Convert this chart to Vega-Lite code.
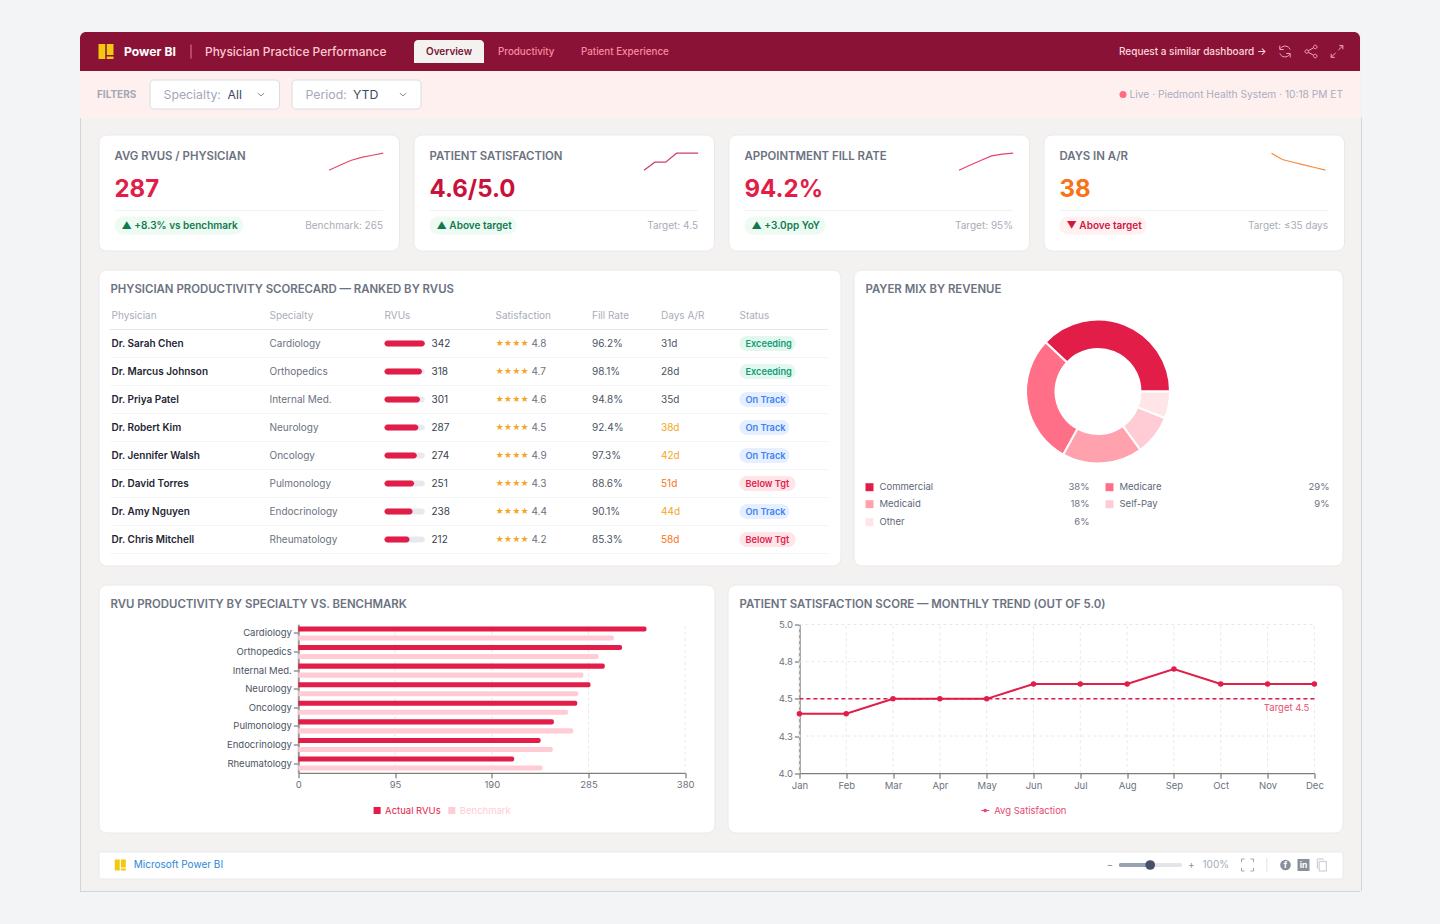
{
  "$schema": "https://vega.github.io/schema/vega-lite/v6.json",
  "description": "Physician Practice Performance dashboard.",
  "background": "#f3f2f1",
  "padding": 0,
  "spacing": 0,
  "config": {
    "font": "Inter",
    "axis": {"disable": true},
    "legend": {"disable": true},
    "view": {"stroke": null},
    "point": {"opacity": 1},
    "text": {"align": "left", "baseline": "middle", "fontSize": 10}
  },
  "datasets": {
    "kpi": [
      {"card": "AVG RVUS", "label": "AVG RVUS / PHYSICIAN", "value": "287", "badge": "▲ +8.3% vs benchmark", "trend": "up", "note": "Benchmark: 265"},
      {"card": "SATISFACTION", "label": "PATIENT SATISFACTION", "value": "4.6/5.0", "badge": "▲ Above target", "trend": "up", "note": "Target: 4.5"},
      {"card": "FILL RATE", "label": "APPOINTMENT FILL RATE", "value": "94.2%", "badge": "▲ +3.0pp YoY", "trend": "up", "note": "Target: 95%"},
      {"card": "DAYS", "label": "DAYS IN A/R", "value": "38", "badge": "▼ Above target", "trend": "down", "note": "Target: ≤35 days"},
      {"card": "AVG RVUS", "step": 0, "spark": 0}, {"card": "AVG RVUS", "step": 1, "spark": 29}, {"card": "AVG RVUS", "step": 2, "spark": 57},
      {"card": "AVG RVUS", "step": 3, "spark": 75}, {"card": "AVG RVUS", "step": 4, "spark": 88}, {"card": "AVG RVUS", "step": 5, "spark": 100},
      {"card": "SATISFACTION", "step": 0, "spark": 0}, {"card": "SATISFACTION", "step": 1, "spark": 47}, {"card": "SATISFACTION", "step": 2, "spark": 47},
      {"card": "SATISFACTION", "step": 3, "spark": 100}, {"card": "SATISFACTION", "step": 4, "spark": 100}, {"card": "SATISFACTION", "step": 5, "spark": 100},
      {"card": "FILL RATE", "step": 0, "spark": 0}, {"card": "FILL RATE", "step": 1, "spark": 29}, {"card": "FILL RATE", "step": 2, "spark": 57},
      {"card": "FILL RATE", "step": 3, "spark": 84}, {"card": "FILL RATE", "step": 4, "spark": 94}, {"card": "FILL RATE", "step": 5, "spark": 100},
      {"card": "DAYS", "step": 0, "spark": 100}, {"card": "DAYS", "step": 1, "spark": 63}, {"card": "DAYS", "step": 2, "spark": 47},
      {"card": "DAYS", "step": 3, "spark": 31}, {"card": "DAYS", "step": 4, "spark": 16}, {"card": "DAYS", "step": 5, "spark": 0}
    ],
    "physicians": [
      {"rank": 1, "physician": "Dr. Sarah Chen", "specialty": "Cardiology", "rvus": 342, "stars": "★★★★", "rating": "4.8", "fill": "96.2%", "days": 31, "daysLabel": "31d", "status": "Exceeding"},
      {"rank": 2, "physician": "Dr. Marcus Johnson", "specialty": "Orthopedics", "rvus": 318, "stars": "★★★★", "rating": "4.7", "fill": "98.1%", "days": 28, "daysLabel": "28d", "status": "Exceeding"},
      {"rank": 3, "physician": "Dr. Priya Patel", "specialty": "Internal Med.", "rvus": 301, "stars": "★★★★", "rating": "4.6", "fill": "94.8%", "days": 35, "daysLabel": "35d", "status": "On Track"},
      {"rank": 4, "physician": "Dr. Robert Kim", "specialty": "Neurology", "rvus": 287, "stars": "★★★★", "rating": "4.5", "fill": "92.4%", "days": 38, "daysLabel": "38d", "status": "On Track"},
      {"rank": 5, "physician": "Dr. Jennifer Walsh", "specialty": "Oncology", "rvus": 274, "stars": "★★★★", "rating": "4.9", "fill": "97.3%", "days": 42, "daysLabel": "42d", "status": "On Track"},
      {"rank": 6, "physician": "Dr. David Torres", "specialty": "Pulmonology", "rvus": 251, "stars": "★★★★", "rating": "4.3", "fill": "88.6%", "days": 51, "daysLabel": "51d", "status": "Below Tgt"},
      {"rank": 7, "physician": "Dr. Amy Nguyen", "specialty": "Endocrinology", "rvus": 238, "stars": "★★★★", "rating": "4.4", "fill": "90.1%", "days": 44, "daysLabel": "44d", "status": "On Track"},
      {"rank": 8, "physician": "Dr. Chris Mitchell", "specialty": "Rheumatology", "rvus": 212, "stars": "★★★★", "rating": "4.2", "fill": "85.3%", "days": 58, "daysLabel": "58d", "status": "Below Tgt"}
    ],
    "payers": [
      {"rank": 1, "payer": "Commercial", "share": 38, "shareLabel": "38%"},
      {"rank": 2, "payer": "Medicare", "share": 29, "shareLabel": "29%"},
      {"rank": 3, "payer": "Medicaid", "share": 18, "shareLabel": "18%"},
      {"rank": 4, "payer": "Self-Pay", "share": 9, "shareLabel": "9%"},
      {"rank": 5, "payer": "Other", "share": 6, "shareLabel": "6%"}
    ],
    "specialties": [
      {"specialty": "Cardiology", "series": "Actual RVUs", "rvus": 342}, {"specialty": "Cardiology", "series": "Benchmark", "rvus": 310},
      {"specialty": "Orthopedics", "series": "Actual RVUs", "rvus": 318}, {"specialty": "Orthopedics", "series": "Benchmark", "rvus": 295},
      {"specialty": "Internal Med.", "series": "Actual RVUs", "rvus": 301}, {"specialty": "Internal Med.", "series": "Benchmark", "rvus": 280},
      {"specialty": "Neurology", "series": "Actual RVUs", "rvus": 287}, {"specialty": "Neurology", "series": "Benchmark", "rvus": 275},
      {"specialty": "Oncology", "series": "Actual RVUs", "rvus": 274}, {"specialty": "Oncology", "series": "Benchmark", "rvus": 265},
      {"specialty": "Pulmonology", "series": "Actual RVUs", "rvus": 251}, {"specialty": "Pulmonology", "series": "Benchmark", "rvus": 270},
      {"specialty": "Endocrinology", "series": "Actual RVUs", "rvus": 238}, {"specialty": "Endocrinology", "series": "Benchmark", "rvus": 250},
      {"specialty": "Rheumatology", "series": "Actual RVUs", "rvus": 212}, {"specialty": "Rheumatology", "series": "Benchmark", "rvus": 240}
    ],
    "satisfaction": [
      {"month": "Jan", "score": 4.4, "target": 4.5}, {"month": "Feb", "score": 4.4, "target": 4.5}, {"month": "Mar", "score": 4.5, "target": 4.5},
      {"month": "Apr", "score": 4.5, "target": 4.5}, {"month": "May", "score": 4.5, "target": 4.5}, {"month": "Jun", "score": 4.6, "target": 4.5},
      {"month": "Jul", "score": 4.6, "target": 4.5}, {"month": "Aug", "score": 4.6, "target": 4.5}, {"month": "Sep", "score": 4.7, "target": 4.5},
      {"month": "Oct", "score": 4.6, "target": 4.5}, {"month": "Nov", "score": 4.6, "target": 4.5}, {"month": "Dec", "score": 4.6, "target": 4.5, "targetLabel": "Target 4.5"}
    ]
  },
  "vconcat": [
    {"width": 1440, "height": 32, "view": {"fill": "#f3f4f6"}, "data": {"values": [{"blank": 1}]}, "mark": {"type": "point", "opacity": 0, "size": 0}},
    {
      "spacing": 0,
      "hconcat": [
        {"width": 80, "height": 860, "view": {"fill": "#f3f4f6"}, "data": {"values": [{"blank": 1}]}, "mark": {"type": "point", "opacity": 0, "size": 0}},
        {
          "spacing": 0,
          "vconcat": [
            {
              "spacing": 0,
              "bounds": "flush",
              "vconcat": [
                {
                  "width": 1280,
                  "height": 39,
                  "encoding": {
                    "x": {"field": "slot", "type": "quantitative", "scale": {"domain": [0, 1, 2, 3, 4, 5, 6, 7, 8, 9, 10, 11, 12, 13, 14], "range": [0, 1280, 26, 44, 111, 125, 334, 404, 369, 418, 501, 1039, 1205, 1231, 1257], "nice": false, "zero": false}}
                  },
                  "layer": [
                    {"data": {"values": [{"slot": 0, "end": 1}]}, "mark": {"type": "bar", "orient": "horizontal", "size": 39, "color": "#8a1236", "cornerRadiusTopLeft": 6, "cornerRadiusTopRight": 6}, "encoding": {"x2": {"field": "end"}, "y": {"datum": 0, "scale": {"domain": [-1, 1], "range": [39, 0], "nice": false, "zero": false, "padding": 0}}}},
                    {"data": {"values": [{"slot": 6, "end": 7}]}, "mark": {"type": "bar", "orient": "horizontal", "size": 23, "color": "#f3f2f1", "cornerRadiusTopLeft": 4, "cornerRadiusTopRight": 4}, "encoding": {"x2": {"field": "end"}, "y": {"datum": 0}}},
                    {"data": {"values": [{"slot": 2}]}, "mark": {"type": "point", "filled": true, "color": "#f2c811", "size": 225, "shape": "M-1,-1H-.1V1H-1Z M.1,-1H1V.45H.1Z M.1,.65H1V1H.1Z"}},
                    {"data": {"values": [{"slot": 4}]}, "mark": {"type": "point", "filled": false, "color": "#f0788e", "size": 196, "strokeWidth": 1, "shape": "M0,-1V1"}},
                    {"data": {"values": [{"slot": 3, "label": "Power BI"}]}, "mark": {"type": "text", "fontSize": 12.2, "fontWeight": 700, "color": "#ffffff"}, "encoding": {"text": {"field": "label"}}},
                    {"data": {"values": [{"slot": 5, "label": "Physician Practice Performance"}]}, "mark": {"type": "text", "fontSize": 11.9, "fontWeight": 500, "color": "#ffc9d0"}, "encoding": {"text": {"field": "label"}}},
                    {"data": {"values": [{"slot": 8, "label": "Overview"}]}, "mark": {"type": "text", "align": "center", "fontSize": 10, "fontWeight": 600, "color": "#7a1230"}, "encoding": {"text": {"field": "label"}}},
                    {"data": {"values": [{"slot": 9, "label": "Productivity"}, {"slot": 10, "label": "Patient Experience"}]}, "mark": {"type": "text", "fontSize": 9.8, "fontWeight": 500, "color": "#f98aa2"}, "encoding": {"text": {"field": "label"}}},
                    {"data": {"values": [{"slot": 11, "label": "Request a similar dashboard →"}]}, "mark": {"type": "text", "fontSize": 10, "fontWeight": 500, "color": "#ffd5db"}, "encoding": {"text": {"field": "label"}}},
                    {"data": {"values": [{"slot": 12}]}, "mark": {"type": "point", "filled": false, "color": "#f9a8b8", "size": 169, "strokeWidth": 1, "shape": "M.8,-.3A.85,.85 0 0 0 -.7,-.45 M-.8,.3A.85,.85 0 0 0 .7,.45 M-.8,-.9V-.3H-.2 M.8,.9V.3H.2"}},
                    {"data": {"values": [{"slot": 13}]}, "mark": {"type": "point", "filled": false, "color": "#f9a8b8", "size": 169, "strokeWidth": 1, "shape": "M.92,-.7A.27,.27 0 1 1 .38,-.7A.27,.27 0 1 1 .92,-.7 M-.38,0A.27,.27 0 1 1 -.92,0A.27,.27 0 1 1 -.38,0 M.92,.7A.27,.27 0 1 1 .38,.7A.27,.27 0 1 1 .92,.7 M-.4,-.13L.4,-.57 M-.4,.13L.4,.57"}},
                    {"data": {"values": [{"slot": 14}]}, "mark": {"type": "point", "filled": false, "color": "#f9a8b8", "size": 169, "strokeWidth": 1, "shape": "M.2,-.2L.9,-.9 M.35,-.9H.9V-.35 M-.2,.2L-.9,.9 M-.35,.9H-.9V.35"}}
                  ]
                },
                {
                  "width": 1280,
                  "height": 47,
                  "view": {"fill": "#fff0f0"},
                  "encoding": {
                    "x": {"field": "slot", "type": "quantitative", "scale": {"domain": [1, 2, 3, 4, 5, 6, 7, 8, 9, 10, 11, 12, 13], "range": [17, 70, 199.5, 83.5, 147.5, 181, 212, 341, 225.5, 273, 323, 1043, 1263], "nice": false, "zero": false}}
                  },
                  "layer": [
                    {"data": {"values": [{"slot": 2, "end": 3}, {"slot": 7, "end": 8}]}, "mark": {"type": "bar", "orient": "horizontal", "size": 29, "color": "#ffffff", "stroke": "#d8dbe3", "cornerRadius": 4}, "encoding": {"x2": {"field": "end"}, "y": {"datum": 0, "scale": {"domain": [-1, 1], "range": [47, 0], "nice": false, "zero": false, "padding": 0}}}},
                    {"data": {"values": [{"slot": 1, "label": "FILTERS"}]}, "mark": {"type": "text", "fontSize": 10, "fontWeight": 700, "color": "#a3a7b4"}, "encoding": {"text": {"field": "label"}}},
                    {"data": {"values": [{"slot": 4, "label": "Specialty:"}, {"slot": 9, "label": "Period:"}]}, "mark": {"type": "text", "fontSize": 12.3, "color": "#a3a9b8"}, "encoding": {"text": {"field": "label"}}},
                    {"data": {"values": [{"slot": 5, "label": "All"}, {"slot": 10, "label": "YTD"}]}, "mark": {"type": "text", "fontSize": 12.3, "color": "#3c4a64"}, "encoding": {"text": {"field": "label"}}},
                    {"data": {"values": [{"slot": 6}, {"slot": 11}]}, "mark": {"type": "point", "filled": false, "color": "#8a90a0", "size": 64, "strokeWidth": 1, "shape": "M-.8,-.35L0,.35L.8,-.35"}},
                    {"data": {"values": [{"slot": 12}]}, "mark": {"type": "point", "filled": true, "color": "#ff6b81", "size": 50, "shape": "circle"}},
                    {"data": {"values": [{"slot": 13, "label": "Live · Piedmont Health System · 10:18 PM ET"}]}, "mark": {"type": "text", "align": "right", "fontSize": 10.2, "color": "#a9adbc"}, "encoding": {"text": {"field": "label"}}}
                  ]
                }
              ]
            },
            {
              "spacing": 16.5,
              "hconcat": [
                {"width": 1, "height": 773, "view": {"fill": "#d2d5db"}, "data": {"values": [{"blank": 1}]}, "mark": {"type": "point", "opacity": 0, "size": 0}},
                {
                  "spacing": 14.5,
                  "vconcat": [
                    {"width": 1244, "height": 1, "data": {"values": [{"blank": 1}]}, "mark": {"type": "point", "opacity": 0, "size": 0}},
                    {
                      "spacing": 17,
                      "resolve": {"scale": {"color": "independent"}},
                      "vconcat": [
                        {
                          "spacing": 14,
                          "bounds": "flush",
                          "data": {"name": "kpi"},
                          "hconcat": [
                            {
                              "width": 300.5,
                              "height": 116,
                              "view": {"fill": "#ffffff", "stroke": "#e8e9ed", "cornerRadius": 8},
                              "transform": [{"filter": "datum.card === 'AVG RVUS'"}],
                              "resolve": {"scale": {"x": "independent", "y": "independent"}},
                              "layer": [
                                {
                                  "transform": [{"filter": "isValid(datum.label)"}, {"calculate": "length(datum.badge)", "as": "chars"}],
                                  "mark": {"type": "bar", "orient": "horizontal", "size": 18, "cornerRadius": 9},
                                  "encoding": {
                                    "x": {"field": "chars", "type": "quantitative", "stack": null, "scale": {"domain": [0, 12, 14, 20], "range": [16, 97, 103, 145], "nice": false, "zero": true}},
                                    "y": {"datum": 91, "scale": {"domain": [0, 116], "range": [0, 116], "nice": false, "zero": false, "padding": 0}},
                                    "color": {"condition": {"test": "datum.trend === 'up'", "value": "#edfbf3"}, "value": "#fff0f2"}
                                  }
                                },
                                {
                                  "transform": [{"filter": "isValid(datum.spark)"}],
                                  "mark": {"type": "line", "strokeWidth": 1.2, "color": "#e8486e"},
                                  "encoding": {
                                    "x": {"field": "step", "type": "quantitative", "scale": {"domain": [0, 5], "range": [230.5, 284.7], "nice": false, "zero": false}},
                                    "y": {"field": "spark", "type": "quantitative", "scale": {"domain": [0, 100], "range": [35.7, 18.7], "nice": false, "zero": false}}
                                  }
                                },
                                {
                                  "transform": [{"filter": "isValid(datum.label)"}, {"calculate": "0", "as": "from"}, {"calculate": "1", "as": "to"}],
                                  "layer": [
                                    {"mark": {"type": "rule", "color": "#f1f2f4"}, "encoding": {"x": {"field": "from", "type": "quantitative", "scale": {"domain": [0, 1], "range": [16, 284.5], "nice": false, "zero": false}}, "x2": {"field": "to"}, "y": {"datum": 3, "scale": {"domain": [1, 2, 3, 4], "range": [22, 55, 76, 91], "nice": false, "zero": false}}}},
                                    {"mark": {"type": "text", "fontSize": 11.4, "fontWeight": 600, "color": "#6b7280"}, "encoding": {"x": {"datum": 0}, "y": {"datum": 1}, "text": {"field": "label"}}},
                                    {"mark": {"type": "text", "fontSize": 24, "fontWeight": 700, "color": "#e11d48"}, "encoding": {"x": {"datum": 0}, "y": {"datum": 2}, "text": {"field": "value"}}},
                                    {"mark": {"type": "text", "fontWeight": 600, "dx": 7, "color": "#0e7a50"}, "encoding": {"x": {"datum": 0}, "y": {"datum": 4}, "text": {"field": "badge"}}},
                                    {"mark": {"type": "text", "align": "right", "color": "#a9adb8"}, "encoding": {"x": {"datum": 1}, "y": {"datum": 4}, "text": {"field": "note"}}}
                                  ]
                                }
                              ]
                            },
                            {
                              "width": 300.5,
                              "height": 116,
                              "view": {"fill": "#ffffff", "stroke": "#e8e9ed", "cornerRadius": 8},
                              "transform": [{"filter": "datum.card === 'SATISFACTION'"}],
                              "resolve": {"scale": {"x": "independent", "y": "independent"}},
                              "layer": [
                                {
                                  "transform": [{"filter": "isValid(datum.label)"}, {"calculate": "length(datum.badge)", "as": "chars"}],
                                  "mark": {"type": "bar", "orient": "horizontal", "size": 18, "cornerRadius": 9},
                                  "encoding": {
                                    "x": {"field": "chars", "type": "quantitative", "stack": null, "scale": {"domain": [0, 12, 14, 20], "range": [16, 97, 103, 145], "nice": false, "zero": true}},
                                    "y": {"datum": 91, "scale": {"domain": [0, 116], "range": [0, 116], "nice": false, "zero": false, "padding": 0}},
                                    "color": {"condition": {"test": "datum.trend === 'up'", "value": "#edfbf3"}, "value": "#fff0f2"}
                                  }
                                },
                                {
                                  "transform": [{"filter": "isValid(datum.spark)"}],
                                  "mark": {"type": "line", "strokeWidth": 1.2, "color": "#c8426b"},
                                  "encoding": {
                                    "x": {"field": "step", "type": "quantitative", "scale": {"domain": [0, 5], "range": [230.5, 284.7], "nice": false, "zero": false}},
                                    "y": {"field": "spark", "type": "quantitative", "scale": {"domain": [0, 100], "range": [35.7, 18.7], "nice": false, "zero": false}}
                                  }
                                },
                                {
                                  "transform": [{"filter": "isValid(datum.label)"}, {"calculate": "0", "as": "from"}, {"calculate": "1", "as": "to"}],
                                  "layer": [
                                    {"mark": {"type": "rule", "color": "#f1f2f4"}, "encoding": {"x": {"field": "from", "type": "quantitative", "scale": {"domain": [0, 1], "range": [16, 284.5], "nice": false, "zero": false}}, "x2": {"field": "to"}, "y": {"datum": 3, "scale": {"domain": [1, 2, 3, 4], "range": [22, 55, 76, 91], "nice": false, "zero": false}}}},
                                    {"mark": {"type": "text", "fontSize": 11.4, "fontWeight": 600, "color": "#6b7280"}, "encoding": {"x": {"datum": 0}, "y": {"datum": 1}, "text": {"field": "label"}}},
                                    {"mark": {"type": "text", "fontSize": 24, "fontWeight": 700, "color": "#c8123c"}, "encoding": {"x": {"datum": 0}, "y": {"datum": 2}, "text": {"field": "value"}}},
                                    {"mark": {"type": "text", "fontWeight": 600, "dx": 7, "color": "#0e7a50"}, "encoding": {"x": {"datum": 0}, "y": {"datum": 4}, "text": {"field": "badge"}}},
                                    {"mark": {"type": "text", "align": "right", "color": "#a9adb8"}, "encoding": {"x": {"datum": 1}, "y": {"datum": 4}, "text": {"field": "note"}}}
                                  ]
                                }
                              ]
                            },
                            {
                              "width": 300.5,
                              "height": 116,
                              "view": {"fill": "#ffffff", "stroke": "#e8e9ed", "cornerRadius": 8},
                              "transform": [{"filter": "datum.card === 'FILL RATE'"}],
                              "resolve": {"scale": {"x": "independent", "y": "independent"}},
                              "layer": [
                                {
                                  "transform": [{"filter": "isValid(datum.label)"}, {"calculate": "length(datum.badge)", "as": "chars"}],
                                  "mark": {"type": "bar", "orient": "horizontal", "size": 18, "cornerRadius": 9},
                                  "encoding": {
                                    "x": {"field": "chars", "type": "quantitative", "stack": null, "scale": {"domain": [0, 12, 14, 20], "range": [16, 97, 103, 145], "nice": false, "zero": true}},
                                    "y": {"datum": 91, "scale": {"domain": [0, 116], "range": [0, 116], "nice": false, "zero": false, "padding": 0}},
                                    "color": {"condition": {"test": "datum.trend === 'up'", "value": "#edfbf3"}, "value": "#fff0f2"}
                                  }
                                },
                                {
                                  "transform": [{"filter": "isValid(datum.spark)"}],
                                  "mark": {"type": "line", "strokeWidth": 1.2, "color": "#e8436b"},
                                  "encoding": {
                                    "x": {"field": "step", "type": "quantitative", "scale": {"domain": [0, 5], "range": [230.5, 284.7], "nice": false, "zero": false}},
                                    "y": {"field": "spark", "type": "quantitative", "scale": {"domain": [0, 100], "range": [35.7, 18.7], "nice": false, "zero": false}}
                                  }
                                },
                                {
                                  "transform": [{"filter": "isValid(datum.label)"}, {"calculate": "0", "as": "from"}, {"calculate": "1", "as": "to"}],
                                  "layer": [
                                    {"mark": {"type": "rule", "color": "#f1f2f4"}, "encoding": {"x": {"field": "from", "type": "quantitative", "scale": {"domain": [0, 1], "range": [16, 284.5], "nice": false, "zero": false}}, "x2": {"field": "to"}, "y": {"datum": 3, "scale": {"domain": [1, 2, 3, 4], "range": [22, 55, 76, 91], "nice": false, "zero": false}}}},
                                    {"mark": {"type": "text", "fontSize": 11.4, "fontWeight": 600, "color": "#6b7280"}, "encoding": {"x": {"datum": 0}, "y": {"datum": 1}, "text": {"field": "label"}}},
                                    {"mark": {"type": "text", "fontSize": 24, "fontWeight": 700, "color": "#e11d48"}, "encoding": {"x": {"datum": 0}, "y": {"datum": 2}, "text": {"field": "value"}}},
                                    {"mark": {"type": "text", "fontWeight": 600, "dx": 7, "color": "#0e7a50"}, "encoding": {"x": {"datum": 0}, "y": {"datum": 4}, "text": {"field": "badge"}}},
                                    {"mark": {"type": "text", "align": "right", "color": "#a9adb8"}, "encoding": {"x": {"datum": 1}, "y": {"datum": 4}, "text": {"field": "note"}}}
                                  ]
                                }
                              ]
                            },
                            {
                              "width": 300.5,
                              "height": 116,
                              "view": {"fill": "#ffffff", "stroke": "#e8e9ed", "cornerRadius": 8},
                              "transform": [{"filter": "datum.card === 'DAYS'"}],
                              "resolve": {"scale": {"x": "independent", "y": "independent"}},
                              "layer": [
                                {
                                  "transform": [{"filter": "isValid(datum.label)"}, {"calculate": "length(datum.badge)", "as": "chars"}],
                                  "mark": {"type": "bar", "orient": "horizontal", "size": 18, "cornerRadius": 9},
                                  "encoding": {
                                    "x": {"field": "chars", "type": "quantitative", "stack": null, "scale": {"domain": [0, 12, 14, 20], "range": [16, 97, 103, 145], "nice": false, "zero": true}},
                                    "y": {"datum": 91, "scale": {"domain": [0, 116], "range": [0, 116], "nice": false, "zero": false, "padding": 0}},
                                    "color": {"condition": {"test": "datum.trend === 'up'", "value": "#edfbf3"}, "value": "#fff0f2"}
                                  }
                                },
                                {
                                  "transform": [{"filter": "isValid(datum.spark)"}],
                                  "mark": {"type": "line", "strokeWidth": 1.2, "color": "#f58a3c"},
                                  "encoding": {
                                    "x": {"field": "step", "type": "quantitative", "scale": {"domain": [0, 5], "range": [228, 282], "nice": false, "zero": false}},
                                    "y": {"field": "spark", "type": "quantitative", "scale": {"domain": [0, 100], "range": [35.7, 18.7], "nice": false, "zero": false}}
                                  }
                                },
                                {
                                  "transform": [{"filter": "isValid(datum.label)"}, {"calculate": "0", "as": "from"}, {"calculate": "1", "as": "to"}],
                                  "layer": [
                                    {"mark": {"type": "rule", "color": "#f1f2f4"}, "encoding": {"x": {"field": "from", "type": "quantitative", "scale": {"domain": [0, 1], "range": [16, 284.5], "nice": false, "zero": false}}, "x2": {"field": "to"}, "y": {"datum": 3, "scale": {"domain": [1, 2, 3, 4], "range": [22, 55, 76, 91], "nice": false, "zero": false}}}},
                                    {"mark": {"type": "text", "fontSize": 11.4, "fontWeight": 600, "color": "#6b7280"}, "encoding": {"x": {"datum": 0}, "y": {"datum": 1}, "text": {"field": "label"}}},
                                    {"mark": {"type": "text", "fontSize": 24, "fontWeight": 700, "color": "#f97316"}, "encoding": {"x": {"datum": 0}, "y": {"datum": 2}, "text": {"field": "value"}}},
                                    {"mark": {"type": "text", "fontWeight": 600, "dx": 7, "color": "#d0173f"}, "encoding": {"x": {"datum": 0}, "y": {"datum": 4}, "text": {"field": "badge"}}},
                                    {"mark": {"type": "text", "align": "right", "color": "#a9adb8"}, "encoding": {"x": {"datum": 1}, "y": {"datum": 4}, "text": {"field": "note"}}}
                                  ]
                                }
                              ]
                            }
                          ]
                        },
                        {
                          "spacing": 13,
                          "bounds": "flush",
                          "hconcat": [
                            {
                              "width": 742,
                              "height": 296,
                              "view": {"fill": "#ffffff", "stroke": "#e8e9ed", "cornerRadius": 8},
                              "data": {"name": "physicians"},
                              "resolve": {"scale": {"x": "independent"}},
                              "layer": [
                                {
                                  "transform": [{"calculate": "length(datum.status)", "as": "chars"}],
                                  "mark": {"type": "bar", "orient": "horizontal", "size": 15, "cornerRadius": 7.5},
                                  "encoding": {
                                    "x": {"field": "chars", "type": "quantitative", "stack": null, "scale": {"domain": [0, 9], "range": [641, 697], "nice": false, "zero": false}},
                                    "y": {"field": "rank", "type": "quantitative", "scale": {"domain": [-1, 8], "range": [18, 270], "nice": false, "zero": false, "padding": 0}},
                                    "color": {"condition": [{"test": "datum.status === 'Exceeding'", "value": "#e3f7ee"}, {"test": "datum.status === 'On Track'", "value": "#e6efff"}], "value": "#ffe4e8"}
                                  }
                                },
                                {
                                  "encoding": {"y": {"field": "rank", "type": "quantitative"}},
                                  "transform": [{"calculate": "342", "as": "full"}],
                                  "layer": [
                                    {
                                      "mark": {"type": "bar", "orient": "horizontal", "size": 6, "cornerRadius": 3, "color": "#e8e9ee"},
                                      "encoding": {"x": {"field": "full", "type": "quantitative", "stack": null, "scale": {"domain": [0, 342], "range": [286, 326.3], "nice": false, "zero": false}}}
                                    },
                                    {
                                      "mark": {"type": "bar", "orient": "horizontal", "size": 6, "cornerRadius": 3, "color": "#e11d48"},
                                      "encoding": {"x": {"field": "rvus", "type": "quantitative", "stack": null}}
                                    }
                                  ]
                                },
                                {
                                  "transform": [{"calculate": "0", "as": "from"}, {"calculate": "11", "as": "to"}, {"calculate": "0.5", "as": "headerRule"}],
                                  "layer": [
                                    {
                                      "mark": {"type": "rule", "color": "#e4e6ee"},
                                      "encoding": {
                                        "x": {"field": "from", "type": "quantitative", "scale": {"domain": [0, 1, 2, 3, 4, 5, 6, 7, 8, 9, 10, 11], "range": [12, 13, 171, 286, 333, 397, 433, 493.5, 562.5, 641, 647, 729], "nice": false, "zero": false}},
                                        "x2": {"field": "to"},
                                        "y": {"field": "headerRule", "type": "quantitative"}
                                      }
                                    },
                                    {
                                      "data": {"values": [{"title": "PHYSICIAN PRODUCTIVITY SCORECARD — RANKED BY RVUS"}]},
                                      "mark": {"type": "text", "fontSize": 11.4, "fontWeight": 600, "color": "#6b7280", "dy": 2},
                                      "encoding": {"x": {"datum": 0}, "y": {"datum": -1}, "text": {"field": "title"}}
                                    },
                                    {
                                      "data": {"values": [{"col": 1, "heading": "Physician"}, {"col": 2, "heading": "Specialty"}, {"col": 3, "heading": "RVUs"}, {"col": 5, "heading": "Satisfaction"}, {"col": 7, "heading": "Fill Rate"}, {"col": 8, "heading": "Days A/R"}, {"col": 9, "heading": "Status"}]},
                                      "mark": {"type": "text", "color": "#a9adb8", "fontSize": 10},
                                      "encoding": {"x": {"field": "col", "type": "quantitative"}, "y": {"datum": 0}, "text": {"field": "heading"}}
                                    },
                                    {
                                      "encoding": {"y": {"field": "rank", "type": "quantitative"}},
                                      "layer": [
                                        {"mark": {"type": "rule", "color": "#f3f4f6", "yOffset": 14}, "encoding": {"x": {"field": "from", "type": "quantitative"}, "x2": {"field": "to"}}},
                                        {"mark": {"type": "text", "fontWeight": 600, "color": "#1e2533"}, "encoding": {"x": {"datum": 1}, "text": {"field": "physician"}}},
                                        {"mark": {"type": "text", "color": "#6b7280"}, "encoding": {"x": {"datum": 2}, "text": {"field": "specialty"}}},
                                        {"mark": {"type": "text", "color": "#374151"}, "encoding": {"x": {"datum": 4}, "text": {"field": "rvus"}}},
                                        {"mark": {"type": "text", "fontSize": 8, "color": "#f5a623"}, "encoding": {"x": {"datum": 5}, "text": {"field": "stars"}}},
                                        {"mark": {"type": "text", "color": "#6b7280"}, "encoding": {"x": {"datum": 6}, "text": {"field": "rating"}}},
                                        {"mark": {"type": "text", "color": "#4b5563"}, "encoding": {"x": {"datum": 7}, "text": {"field": "fill"}}},
                                        {
                                          "mark": {"type": "text"},
                                          "encoding": {
                                            "x": {"datum": 8},
                                            "text": {"field": "daysLabel"},
                                            "color": {"condition": [{"test": "datum.days >= 50", "value": "#f97316"}, {"test": "datum.days >= 36", "value": "#f5a623"}], "value": "#4b5563"}
                                          }
                                        },
                                        {
                                          "mark": {"type": "text", "fontSize": 9.2, "fontWeight": 600},
                                          "encoding": {
                                            "x": {"datum": 10},
                                            "text": {"field": "status"},
                                            "color": {"condition": [{"test": "datum.status === 'Exceeding'", "value": "#0f9d78"}, {"test": "datum.status === 'On Track'", "value": "#3b82f6"}], "value": "#e0234e"}
                                          }
                                        }
                                      ]
                                    }
                                  ]
                                }
                              ]
                            },
                            {
                              "width": 489,
                              "height": 296,
                              "view": {"fill": "#ffffff", "stroke": "#e8e9ed", "cornerRadius": 8},
                              "data": {"name": "payers"},
                              "layer": [
                                {
                                  "transform": [
                                    {"stack": "share", "sort": [{"field": "rank", "order": "descending"}], "as": ["shareStart", "shareEnd"]},
                                    {"calculate": "0", "as": "center"}
                                  ],
                                  "mark": {"type": "arc", "outerRadius": 72, "innerRadius": 42.5, "stroke": "#ffffff", "strokeWidth": 2},
                                  "encoding": {
                                    "theta": {"field": "shareStart", "type": "quantitative", "stack": null, "scale": {"type": "linear", "domain": [0, 100], "range": [1.5708, 7.854], "nice": false, "zero": false}},
                                    "theta2": {"field": "shareEnd"},
                                    "y": {"field": "center", "type": "quantitative", "scale": {"domain": [-1, 0, 1, 2, 3, 4, 5], "range": [20, 122, 217.7, 217.7, 234.7, 234.7, 252.7], "nice": false, "zero": false}},
                                    "color": {"field": "payer", "type": "nominal", "sort": null, "scale": {"domain": ["Commercial", "Medicare", "Medicaid", "Self-Pay", "Other"], "range": ["#e11d48", "#ff7088", "#ffa2ad", "#ffccd5", "#ffe4e8"]}}
                                  }
                                },
                                {
                                  "encoding": {
                                    "x": {"field": "rank", "type": "quantitative", "scale": {"domain": [1, 2, 3, 4, 5], "range": [12, 252, 12, 252, 12], "nice": false, "zero": false}},
                                    "y": {"field": "rank", "type": "quantitative"}
                                  },
                                  "layer": [
                                    {
                                      "mark": {"type": "point", "filled": true, "shape": "square", "size": 64, "xOffset": 4},
                                      "encoding": {"color": {"field": "payer", "type": "nominal", "sort": null}}
                                    },
                                    {"mark": {"type": "text", "fontSize": 9.5, "color": "#606778", "dx": 14}, "encoding": {"text": {"field": "payer"}}},
                                    {"mark": {"type": "text", "fontSize": 9.5, "align": "right", "color": "#6b7280", "dx": 224}, "encoding": {"text": {"field": "shareLabel"}}}
                                  ]
                                },
                                {
                                  "data": {"values": [{"title": "PAYER MIX BY REVENUE"}]},
                                  "mark": {"type": "text", "fontSize": 11.4, "fontWeight": 600, "color": "#6b7280"},
                                  "encoding": {"x": {"datum": 1}, "y": {"datum": -1}, "text": {"field": "title"}}
                                }
                              ]
                            }
                          ]
                        },
                        {
                          "spacing": 13,
                          "bounds": "flush",
                          "hconcat": [
                            {
                              "width": 616,
                              "height": 248,
                              "view": {"fill": "#ffffff", "stroke": "#e8e9ed", "cornerRadius": 8},
                              "resolve": {"scale": {"x": "independent", "y": "independent", "yOffset": "independent"}},
                              "layer": [
                                {
                                  "data": {"values": [{"tick": 95}, {"tick": 190}, {"tick": 285}, {"tick": 380}]},
                                  "transform": [{"calculate": "0", "as": "lo"}, {"calculate": "1", "as": "hi"}],
                                  "mark": {"type": "rule", "color": "#e8e8e8", "strokeDash": [3, 3]},
                                  "encoding": {
                                    "x": {"field": "tick", "type": "quantitative", "scale": {"domain": [0, 380], "range": [199.8, 586.7], "nice": false, "zero": false}},
                                    "y": {"field": "lo", "type": "quantitative", "scale": {"domain": [0, 1], "range": [188.3, 39.7], "nice": false, "zero": false}},
                                    "y2": {"field": "hi"}
                                  }
                                },
                                {
                                  "data": {"name": "specialties"},
                                  "mark": {"type": "bar", "cornerRadiusEnd": 2},
                                  "encoding": {
                                    "x": {
                                      "field": "rvus", "type": "quantitative", "stack": null, "title": null,
                                      "scale": {"domain": [0, 380], "range": [199.8, 586.7], "nice": false, "zero": false},
                                      "axis": {"disable": false, "orient": "bottom", "offset": -59.7, "values": [0, 95, 190, 285, 380], "grid": false, "labelFlush": false, "domainColor": "#605e5c", "tickColor": "#605e5c", "labelColor": "#6b7280", "labelFontSize": 9.5, "tickSize": 5}
                                    },
                                    "y": {
                                      "field": "specialty", "type": "nominal", "sort": null, "title": null,
                                      "scale": {"type": "band", "range": [39.7, 188.3], "paddingInner": 0, "paddingOuter": 0},
                                      "axis": {"disable": false, "orient": "left", "offset": -199.8, "domainColor": "#9a9a9a", "domainWidth": 2, "tickColor": "#605e5c", "labelColor": "#4b5563", "labelFontSize": 9.5, "tickSize": 5, "labelPadding": 2}
                                    },
                                    "yOffset": {"field": "series", "type": "nominal", "sort": null, "scale": {"paddingInner": 0.44, "paddingOuter": 0.25}},
                                    "color": {"field": "series", "type": "nominal", "sort": null, "scale": {"domain": ["Actual RVUs", "Benchmark"], "range": ["#e11d48", "#ffccd5"]}}
                                  }
                                },
                                {
                                  "data": {"values": [{"title": "RVU PRODUCTIVITY BY SPECIALTY VS. BENCHMARK"}]},
                                  "mark": {"type": "text", "fontSize": 11.4, "fontWeight": 600, "color": "#6b7280"},
                                  "encoding": {
                                    "x": {"datum": 0, "scale": {"domain": [0, 1], "range": [12, 13], "nice": false, "zero": false}},
                                    "y": {"datum": 0, "scale": {"domain": [0, 1], "range": [20, 21], "nice": false, "zero": false}},
                                    "text": {"field": "title"}
                                  }
                                },
                                {
                                  "data": {"values": [{"series": "Actual RVUs"}, {"series": "Benchmark"}]},
                                  "encoding": {
                                    "x": {"field": "series", "type": "nominal", "sort": null, "scale": {"type": "point", "domain": ["Actual RVUs", "Benchmark"], "range": [278.6, 353.3], "padding": 0}},
                                    "y": {"datum": 0, "scale": {"domain": [0, 1], "range": [226, 227], "nice": false, "zero": false}},
                                    "color": {"condition": {"test": "datum.series === 'Actual RVUs'", "value": "#e11d48"}, "value": "#ffccd5"}
                                  },
                                  "layer": [
                                    {"mark": {"type": "point", "filled": true, "shape": "square", "size": 50}},
                                    {"mark": {"type": "text", "fontSize": 9.5, "dx": 8}, "encoding": {"text": {"field": "series"}}}
                                  ]
                                }
                              ]
                            },
                            {
                              "width": 615,
                              "height": 248,
                              "view": {"fill": "#ffffff", "stroke": "#e8e9ed", "cornerRadius": 8},
                              "resolve": {"scale": {"x": "independent", "y": "independent"}},
                              "layer": [
                                {
                                  "data": {"name": "satisfaction"},
                                  "encoding": {
                                    "x": {
                                      "field": "month", "type": "nominal", "sort": null, "title": null,
                                      "scale": {"type": "point", "range": [71.9, 586.9], "padding": 0},
                                      "axis": {"disable": false, "orient": "bottom", "offset": -59.3, "labelAngle": 0, "grid": false, "domainColor": "#605e5c", "tickColor": "#605e5c", "labelColor": "#6b7280", "labelFontSize": 9.5, "tickSize": 5}
                                    },
                                    "y": {
                                      "field": "score", "type": "quantitative", "title": null,
                                      "scale": {"domain": [4, 5], "range": [188.7, 40], "nice": false, "zero": false},
                                      "axis": {"disable": false, "orient": "left", "offset": -71.9, "values": [4, 4.25, 4.5, 4.75, 5], "format": ".1f", "grid": false, "domainColor": "#a0a0a0", "domainWidth": 2, "tickColor": "#605e5c", "labelColor": "#6b7280", "labelFontSize": 9.5, "tickSize": 5, "labelPadding": 2}
                                    }
                                  },
                                  "layer": [
                                    {
                                      "transform": [{"calculate": "4", "as": "lo"}, {"calculate": "5", "as": "hi"}],
                                      "mark": {"type": "rule", "color": "#e8e8e8", "strokeDash": [3, 3]},
                                      "encoding": {"y": {"field": "lo", "type": "quantitative"}, "y2": {"field": "hi"}}
                                    },
                                    {
                                      "data": {"values": [{"tick": 4.25}, {"tick": 4.5}, {"tick": 4.75}, {"tick": 5}]},
                                      "transform": [{"calculate": "'Jan'", "as": "first"}, {"calculate": "'Dec'", "as": "last"}],
                                      "mark": {"type": "rule", "color": "#e8e8e8", "strokeDash": [3, 3]},
                                      "encoding": {"x": {"field": "first", "type": "nominal"}, "x2": {"field": "last"}, "y": {"field": "tick", "type": "quantitative"}}
                                    },
                                    {"mark": {"type": "line", "color": "#e11d48", "strokeWidth": 2}},
                                    {"mark": {"type": "line", "color": "#d81b47", "strokeWidth": 1.5, "strokeDash": [4, 3]}, "encoding": {"y": {"field": "target", "type": "quantitative"}}},
                                    {"mark": {"type": "point", "filled": true, "color": "#e11d48", "size": 30}},
                                    {
                                      "transform": [{"filter": "isValid(datum.targetLabel)"}],
                                      "mark": {"type": "text", "align": "right", "fontSize": 9.5, "color": "#e8506f", "dx": -5, "dy": 9},
                                      "encoding": {"y": {"field": "target", "type": "quantitative"}, "text": {"field": "targetLabel"}}
                                    }
                                  ]
                                },
                                {
                                  "data": {"values": [{"title": "PATIENT SATISFACTION SCORE — MONTHLY TREND (OUT OF 5.0)"}]},
                                  "mark": {"type": "text", "fontSize": 11.4, "fontWeight": 600, "color": "#6b7280"},
                                  "encoding": {
                                    "x": {"datum": 0, "scale": {"domain": [0, 1], "range": [12, 13], "nice": false, "zero": false}},
                                    "y": {"datum": 0, "scale": {"domain": [0, 1], "range": [20, 21], "nice": false, "zero": false}},
                                    "text": {"field": "title"}
                                  }
                                },
                                {
                                  "data": {"values": [{"series": "Avg Satisfaction"}]},
                                  "encoding": {
                                    "x": {"datum": 0, "scale": {"domain": [0, 1], "range": [257.7, 258.7], "nice": false, "zero": false}},
                                    "y": {"datum": 0, "scale": {"domain": [0, 1], "range": [226, 227], "nice": false, "zero": false}}
                                  },
                                  "layer": [
                                    {"mark": {"type": "point", "filled": true, "color": "#e8486e", "size": 64, "shape": "M-1,-.12H1V.12H-1Z M.45,0A.45,.45 0 1 1 -.45,0A.45,.45 0 1 1 .45,0Z"}},
                                    {"mark": {"type": "text", "fontSize": 9.5, "color": "#e8486e", "dx": 9}, "encoding": {"text": {"field": "series"}}}
                                  ]
                                }
                              ]
                            }
                          ]
                        },
                        {
                          "width": 1244,
                          "height": 27,
                          "view": {"fill": "#ffffff", "stroke": "#e8e9ed"},
                          "encoding": {
                            "x": {"field": "slot", "type": "quantitative", "scale": {"domain": [0, 1, 2, 3, 4, 5, 6, 7, 8, 9, 10, 11, 12], "range": [21.8, 35.3, 1011.3, 1020.3, 1051.7, 1083.7, 1092.7, 1104, 1149, 1168.3, 1187, 1205, 1223], "nice": false, "zero": false}}
                          },
                          "layer": [
                            {"data": {"values": [{"slot": 0}]}, "mark": {"type": "point", "filled": true, "color": "#f2c811", "size": 121, "shape": "M-1,-1H-.1V1H-1Z M.1,-1H1V.45H.1Z M.1,.65H1V1H.1Z"}},
                            {"data": {"values": [{"slot": 1, "label": "Microsoft Power BI"}]}, "mark": {"type": "text", "color": "#2b88d8"}, "encoding": {"text": {"field": "label"}}},
                            {"data": {"values": [{"slot": 2, "label": "−"}, {"slot": 6, "label": "+"}]}, "mark": {"type": "text", "align": "center", "color": "#8a90a0"}, "encoding": {"text": {"field": "label"}}},
                            {"data": {"values": [{"slot": 3, "end": 5}]}, "mark": {"type": "bar", "orient": "horizontal", "size": 4, "cornerRadius": 2, "color": "#e3e5ea"}, "encoding": {"x2": {"field": "end"}, "y": {"datum": 0, "scale": {"domain": [-1, 1], "range": [27, 0], "nice": false, "zero": false, "padding": 0}}}},
                            {"data": {"values": [{"slot": 3, "end": 4}]}, "mark": {"type": "bar", "orient": "horizontal", "size": 4, "cornerRadius": 2, "color": "#9aa1b0"}, "encoding": {"x2": {"field": "end"}, "y": {"datum": 0}}},
                            {"data": {"values": [{"slot": 4}]}, "mark": {"type": "point", "filled": true, "shape": "circle", "size": 95, "color": "#475069"}},
                            {"data": {"values": [{"slot": 7, "label": "100%"}]}, "mark": {"type": "text", "color": "#a5abb9"}, "encoding": {"text": {"field": "label"}}},
                            {"data": {"values": [{"slot": 8}]}, "mark": {"type": "point", "filled": false, "color": "#9ca3af", "size": 144, "strokeWidth": 1, "shape": "M-1,-.5V-1H-.5 M.5,-1H1V-.5 M1,.5V1H.5 M-.5,1H-1V.5"}},
                            {"data": {"values": [{"slot": 9}]}, "mark": {"type": "point", "filled": false, "color": "#e1e3e8", "size": 196, "strokeWidth": 1, "shape": "M0,-1V1"}},
                            {"data": {"values": [{"slot": 10}]}, "mark": {"type": "point", "filled": true, "shape": "circle", "size": 113, "color": "#8a8f9c"}},
                            {"data": {"values": [{"slot": 11}]}, "mark": {"type": "point", "filled": true, "shape": "square", "size": 144, "color": "#8a8f9c"}},
                            {"data": {"values": [{"slot": 10, "label": "f"}, {"slot": 11, "label": "in"}]}, "mark": {"type": "text", "align": "center", "fontSize": 8.5, "fontWeight": 700, "color": "#ffffff"}, "encoding": {"text": {"field": "label"}}},
                            {"data": {"values": [{"slot": 12}]}, "mark": {"type": "point", "filled": false, "color": "#c3c7d0", "size": 144, "strokeWidth": 1, "shape": "M-.4,-.6H.8V1H-.4Z M-.7,.6V-1H.4"}}
                          ]
                        }
                      ]
                    }
                  ]
                },
                {"width": 1, "height": 773, "view": {"fill": "#d2d5db"}, "data": {"values": [{"blank": 1}]}, "mark": {"type": "point", "opacity": 0, "size": 0}}
              ]
            },
            {"width": 1280, "height": 1, "view": {"fill": "#d2d5db"}, "data": {"values": [{"blank": 1}]}, "mark": {"type": "point", "opacity": 0, "size": 0}}
          ]
        },
        {"width": 80, "height": 860, "view": {"fill": "#f3f4f6"}, "data": {"values": [{"blank": 1}]}, "mark": {"type": "point", "opacity": 0, "size": 0}}
      ]
    },
    {"width": 1440, "height": 32, "view": {"fill": "#f3f4f6"}, "data": {"values": [{"blank": 1}]}, "mark": {"type": "point", "opacity": 0, "size": 0}}
  ]
}
